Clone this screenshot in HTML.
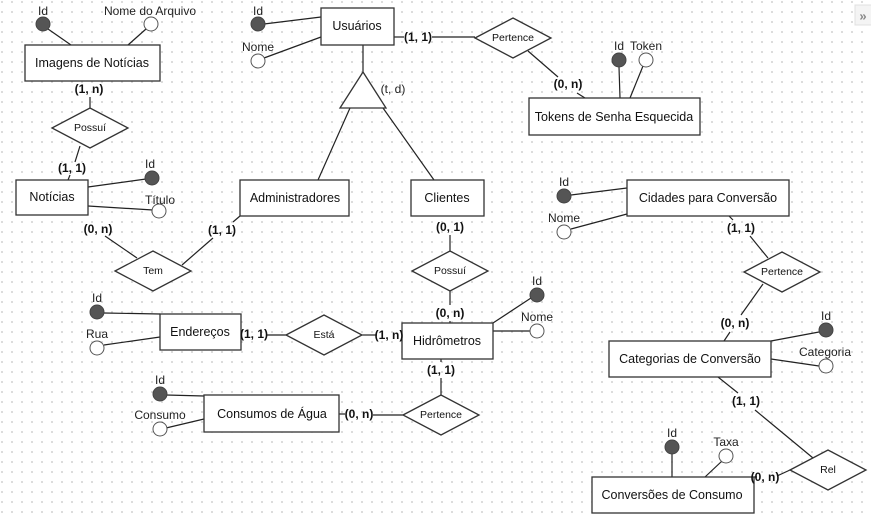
<!DOCTYPE html>
<html><head><meta charset="utf-8"><style>
html,body{margin:0;padding:0;}
body{width:871px;height:515px;overflow:hidden;background:#fff;background-image:radial-gradient(circle,#d0d0d0 0.8px,transparent 1px);background-size:10px 10px;background-position:-3px -3px;}
svg{position:absolute;left:0;top:0;}
text{font-family:"Liberation Sans",sans-serif;}
.e{font-size:12.5px;fill:#111;text-anchor:middle;dominant-baseline:central;}
.r{font-size:10.5px;fill:#111;text-anchor:middle;dominant-baseline:central;}
.c{font-size:12px;font-weight:bold;fill:#111;text-anchor:middle;dominant-baseline:central;}
.a{font-size:12px;fill:#222;text-anchor:middle;dominant-baseline:central;}
rect,polygon{fill:#fff;stroke:#333;stroke-width:1.3;}
line{stroke:#222;stroke-width:1.2;}
.f{fill:#555;stroke:#444;stroke-width:1;}
.o{fill:#fff;stroke:#555;stroke-width:1;}
</style></head><body>
<svg width="871" height="515" xmlns="http://www.w3.org/2000/svg">
<!-- lines -->
<line x1="48" y1="29" x2="71" y2="45"/><line x1="146" y1="29" x2="128" y2="45"/>
<line x1="90" y1="97" x2="90" y2="108"/><line x1="80" y1="146" x2="75" y2="162"/>
<line x1="70" y1="175" x2="68" y2="180"/>
<line x1="88" y1="187" x2="146" y2="179"/><line x1="88" y1="206" x2="153" y2="210"/>
<line x1="105" y1="236" x2="137" y2="258"/><line x1="182" y1="265" x2="213" y2="238"/>
<line x1="233" y1="222" x2="240" y2="216"/>
<line x1="264" y1="24" x2="321" y2="17"/><line x1="264" y1="58" x2="321" y2="37"/>
<line x1="363" y1="45" x2="363" y2="72"/>
<line x1="350" y1="108" x2="318" y2="180"/><line x1="383" y1="108" x2="434" y2="180"/>
<line x1="394" y1="37" x2="404" y2="37"/><line x1="432" y1="37" x2="475" y2="37"/>
<line x1="528" y1="51" x2="558" y2="77"/><line x1="577" y1="93" x2="585" y2="98"/>
<line x1="619" y1="67" x2="620" y2="98"/><line x1="643" y1="66" x2="630" y2="98"/>
<line x1="450" y1="235" x2="450" y2="251"/><line x1="450" y1="291" x2="450" y2="305"/>
<line x1="450" y1="321" x2="450" y2="323"/>
<line x1="493" y1="323" x2="531" y2="298"/><line x1="493" y1="331" x2="531" y2="331"/>
<line x1="104" y1="313" x2="160" y2="314"/><line x1="104" y1="345" x2="160" y2="337"/>
<line x1="267" y1="335" x2="286" y2="335"/><line x1="362" y1="335" x2="377" y2="335"/>
<line x1="441" y1="359" x2="441" y2="362"/><line x1="441" y1="378" x2="441" y2="396"/>
<line x1="373" y1="415" x2="403" y2="415"/><line x1="339" y1="414" x2="345" y2="414"/>
<line x1="166" y1="395" x2="204" y2="396"/><line x1="166" y1="428" x2="204" y2="419"/>
<line x1="571" y1="195" x2="627" y2="188"/><line x1="571" y1="229" x2="627" y2="214"/>
<line x1="729" y1="216" x2="733" y2="220"/><line x1="750" y1="236" x2="768" y2="258"/>
<line x1="763" y1="284" x2="741" y2="315"/><line x1="730" y1="332" x2="724" y2="341"/>
<line x1="771" y1="341" x2="819" y2="332"/><line x1="771" y1="359" x2="819" y2="366"/>
<line x1="718" y1="377" x2="738" y2="393"/><line x1="755" y1="410" x2="813" y2="458"/>
<line x1="777" y1="476" x2="790" y2="470"/><line x1="754" y1="477" x2="757" y2="477"/>
<line x1="672" y1="454" x2="672" y2="477"/><line x1="722" y1="461" x2="705" y2="477"/>
<!-- triangle -->
<polygon points="363,72 340,108 386,108"/>
<!-- entities -->
<rect x="25" y="45" width="135" height="36"/><text class="e" x="92" y="63">Imagens de Notícias</text>
<rect x="16" y="180" width="72" height="35"/><text class="e" x="52" y="197">Notícias</text>
<rect x="240" y="180" width="109" height="36"/><text class="e" x="295" y="198">Administradores</text>
<rect x="321" y="8" width="73" height="37"/><text class="e" x="357" y="26">Usuários</text>
<rect x="411" y="180" width="73" height="36"/><text class="e" x="447" y="198">Clientes</text>
<rect x="529" y="98" width="171" height="37"/><text class="e" x="614" y="117">Tokens de Senha Esquecida</text>
<rect x="402" y="323" width="91" height="36"/><text class="e" x="447" y="341">Hidrômetros</text>
<rect x="160" y="314" width="81" height="36"/><text class="e" x="200" y="332">Endereços</text>
<rect x="204" y="395" width="135" height="37"/><text class="e" x="272" y="414">Consumos de Água</text>
<rect x="627" y="180" width="162" height="36"/><text class="e" x="708" y="198">Cidades para Conversão</text>
<rect x="609" y="341" width="162" height="36"/><text class="e" x="690" y="359">Categorias de Conversão</text>
<rect x="592" y="477" width="162" height="36"/><text class="e" x="672" y="495">Conversões de Consumo</text>
<!-- relationships -->
<polygon points="52,128 90,108 128,128 90,148"/><text class="r" x="90" y="128">Possuí</text>
<polygon points="115,271 153,251 191,271 153,291"/><text class="r" x="153" y="271">Tem</text>
<polygon points="475,38 513,18 551,38 513,58"/><text class="r" x="513" y="38">Pertence</text>
<polygon points="412,271 450,251 488,271 450,291"/><text class="r" x="450" y="271">Possuí</text>
<polygon points="286,335 324,315 362,335 324,355"/><text class="r" x="324" y="335">Está</text>
<polygon points="403,415 441,395 479,415 441,435"/><text class="r" x="441" y="415">Pertence</text>
<polygon points="744,272 782,252 820,272 782,292"/><text class="r" x="782" y="272">Pertence</text>
<polygon points="790,470 828,450 866,470 828,490"/><text class="r" x="828" y="470">Rel</text>
<!-- attributes -->
<circle class="f" cx="43" cy="24" r="7"/><text class="a" x="43" y="11">Id</text>
<circle class="o" cx="151" cy="24" r="7"/><text class="a" x="150" y="11">Nome do Arquivo</text>
<circle class="f" cx="152" cy="178" r="7"/><text class="a" x="150" y="164">Id</text>
<circle class="o" cx="159" cy="211" r="7"/><text class="a" x="160" y="200">Título</text>
<circle class="f" cx="258" cy="24" r="7"/><text class="a" x="258" y="11">Id</text>
<circle class="o" cx="258" cy="61" r="7"/><text class="a" x="258" y="47">Nome</text>
<circle class="f" cx="619" cy="60" r="7"/><text class="a" x="619" y="46">Id</text>
<circle class="o" cx="646" cy="60" r="7"/><text class="a" x="646" y="46">Token</text>
<circle class="f" cx="537" cy="295" r="7"/><text class="a" x="537" y="281">Id</text>
<circle class="o" cx="537" cy="331" r="7"/><text class="a" x="537" y="317">Nome</text>
<circle class="f" cx="97" cy="312" r="7"/><text class="a" x="97" y="298">Id</text>
<circle class="o" cx="97" cy="348" r="7"/><text class="a" x="97" y="334">Rua</text>
<circle class="f" cx="160" cy="394" r="7"/><text class="a" x="160" y="380">Id</text>
<circle class="o" cx="160" cy="429" r="7"/><text class="a" x="160" y="415">Consumo</text>
<circle class="f" cx="564" cy="196" r="7"/><text class="a" x="564" y="182">Id</text>
<circle class="o" cx="564" cy="232" r="7"/><text class="a" x="564" y="218">Nome</text>
<circle class="f" cx="826" cy="330" r="7"/><text class="a" x="826" y="316">Id</text>
<circle class="o" cx="826" cy="366" r="7"/><text class="a" x="825" y="352">Categoria</text>
<circle class="f" cx="672" cy="447" r="7"/><text class="a" x="672" y="433">Id</text>
<circle class="o" cx="726" cy="456" r="7"/><text class="a" x="726" y="442">Taxa</text>
<!-- cardinalities -->
<text class="c" x="89" y="89">(1, n)</text>
<text class="c" x="72" y="168">(1, 1)</text>
<text class="c" x="98" y="229">(0, n)</text>
<text class="c" x="222" y="230">(1, 1)</text>
<text class="c" x="418" y="37">(1, 1)</text>
<text class="c" x="568" y="84">(0, n)</text>
<text class="c" x="450" y="227">(0, 1)</text>
<text class="c" x="450" y="313">(0, n)</text>
<text class="c" x="254" y="334">(1, 1)</text>
<text class="c" x="389" y="335">(1, n)</text>
<text class="c" x="441" y="370">(1, 1)</text>
<text class="c" x="359" y="414">(0, n)</text>
<text class="c" x="741" y="228">(1, 1)</text>
<text class="c" x="735" y="323">(0, n)</text>
<text class="c" x="746" y="401">(1, 1)</text>
<text class="c" x="765" y="477">(0, n)</text>
<text class="a" x="393" y="89">(t, d)</text>
<!-- toolbar icon -->
<rect x="855" y="5" width="18" height="20" style="fill:#f4f4f4;stroke:#e0e0e0;stroke-width:1"/>
<text x="863" y="16" style="font-size:13px;fill:#888;text-anchor:middle;dominant-baseline:central;font-weight:bold">»</text>
</svg>
</body></html>
